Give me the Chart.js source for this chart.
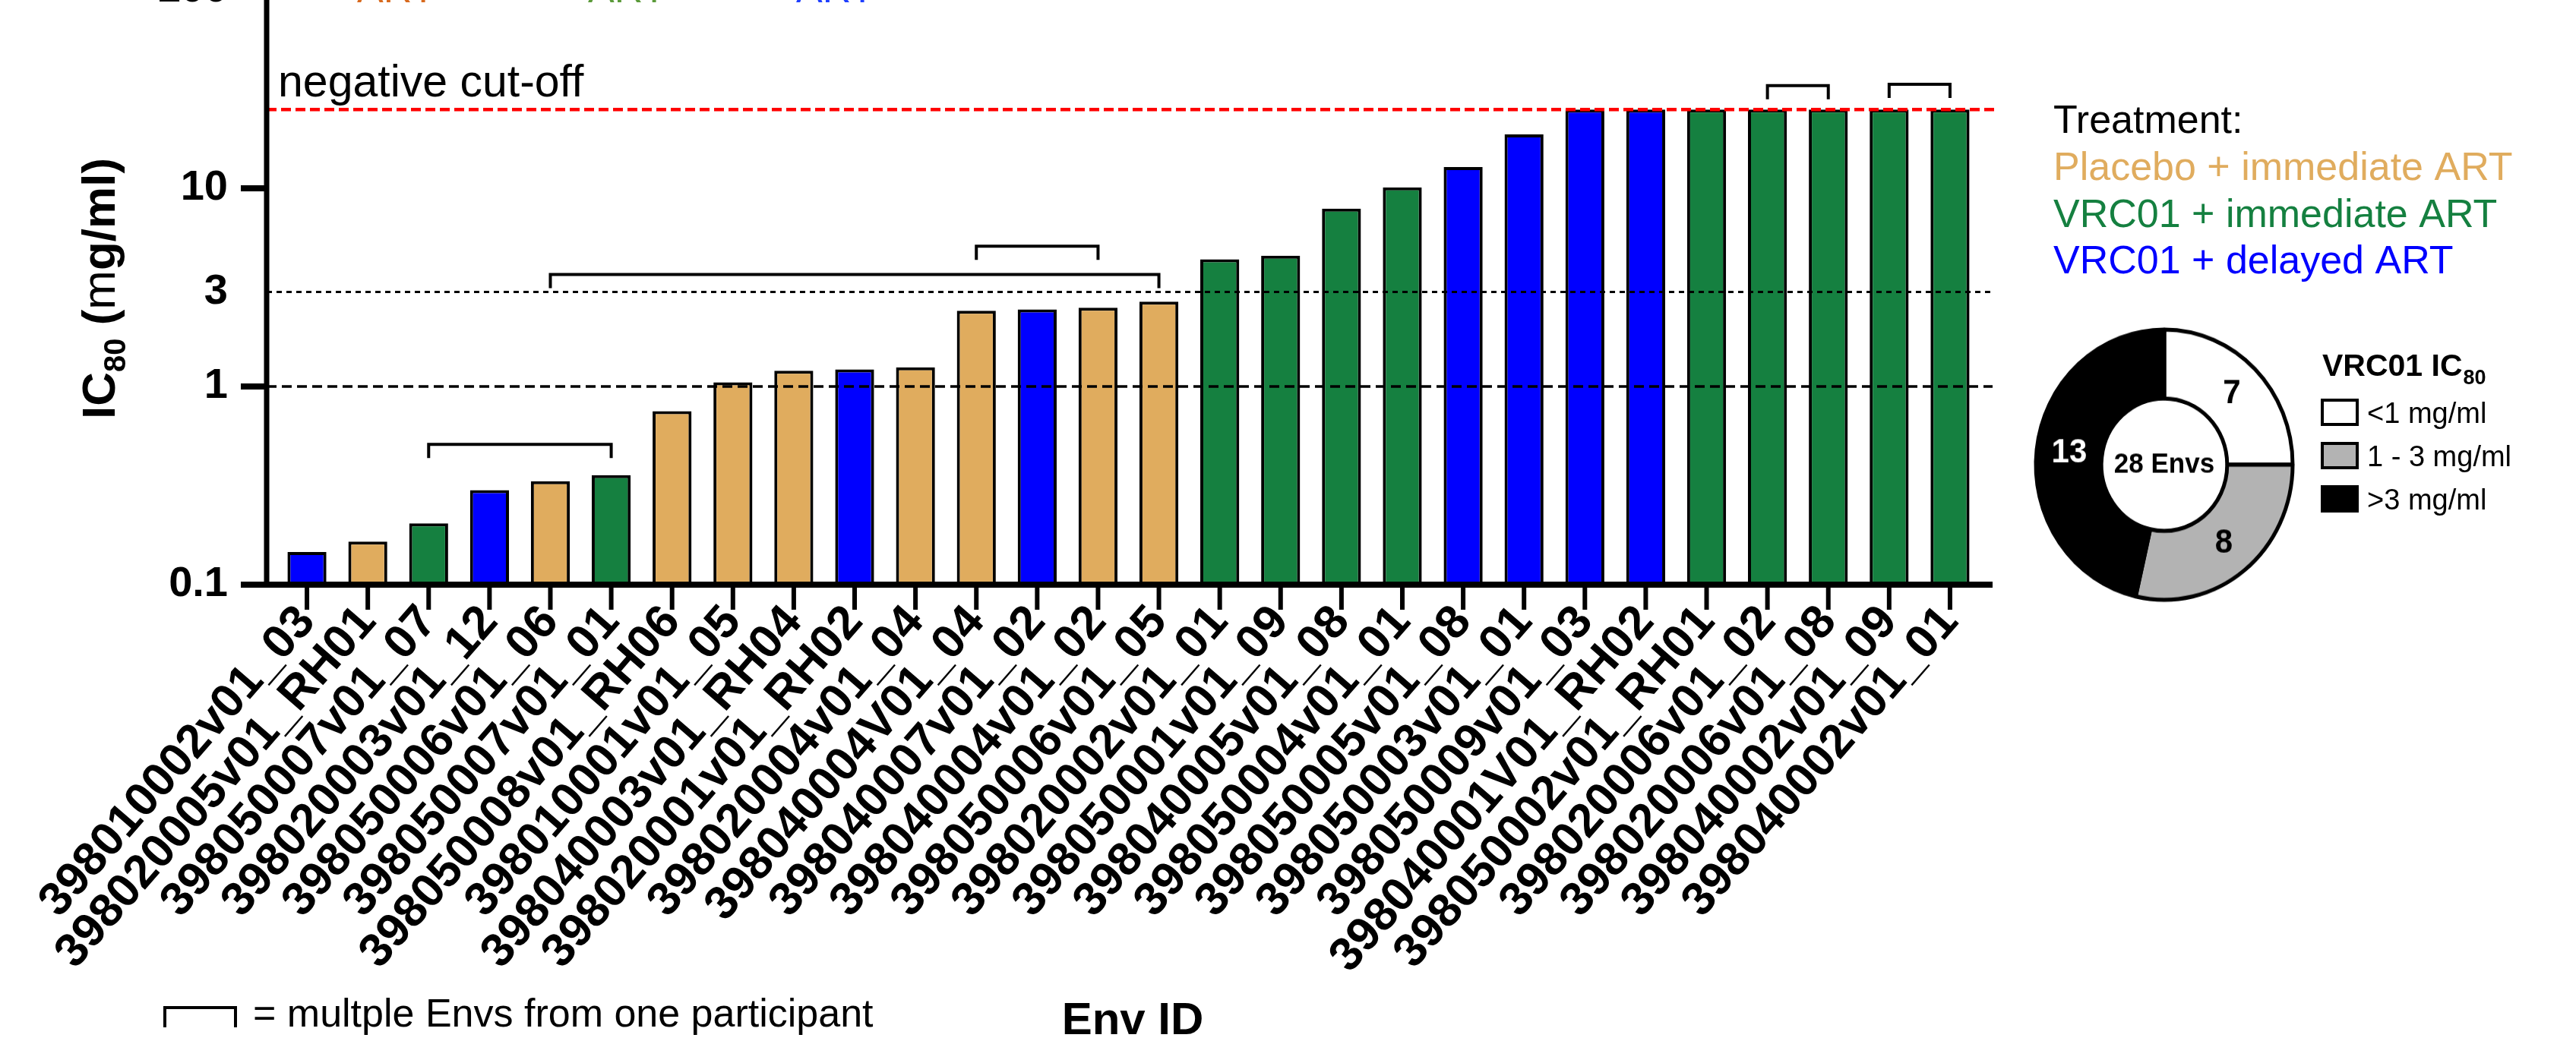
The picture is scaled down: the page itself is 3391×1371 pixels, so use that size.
<!DOCTYPE html>
<html>
<head>
<meta charset="utf-8">
<script src="https://cdn.jsdelivr.net/npm/chart.js@4.4.1/dist/chart.umd.min.js"></script>
<style>
  html, body { margin: 0; padding: 0; background: #fff; overflow: hidden; }
  body { width: 3391px; height: 1371px; position: relative; }
  #bars { position: absolute; left: 0; top: -113px; }
  #pie { position: absolute; left: 2649px; top: 412px; transform: scaleY(1.053); transform-origin: 50% 50%; }
</style>
</head>
<body>
<canvas id="bars" width="3391" height="1484"></canvas>
<canvas id="pie" width="400" height="400"></canvas>
<script>
// Env IDs, in plot order
const envIds = [
  '398010002v01_03', '398020005v01_RH01', '398050007v01_07', '398020003v01_12',
  '398050006v01_06', '398050007v01_01', '398050008v01_RH06', '398010001v01_05',
  '398040003v01_RH04', '398020001v01_RH02', '398020004v01_04', '398040004V01_04',
  '398040007v01_02', '398040004v01_02', '398050006v01_05', '398020002v01_01',
  '398050001v01_09', '398040005v01_08', '398050004v01_01', '398050005v01_08',
  '398050003v01_01', '398050009v01_03', '398040001V01_RH02', '398050002v01_RH01',
  '398020006v01_02', '398020006v01_08', '398040002v01_09', '398040002v01_01'
];
// VRC01 IC80 (ug/ml)
const ic80 = [
  0.146, 0.165, 0.204, 0.30, 0.333, 0.357, 0.75, 1.05,
  1.20, 1.22, 1.25, 2.41, 2.45, 2.50, 2.68, 4.38,
  4.57, 7.9, 10.1, 12.8, 18.7, 25, 25, 25,
  25, 25, 25, 25
];
// 0 = placebo + immediate, 1 = VRC01 + immediate, 2 = VRC01 + delayed
const arms = [2, 0, 1, 2, 0, 1, 0, 0, 0, 2, 0, 0, 2, 0, 0, 1, 1, 1, 1, 2, 2, 2, 2, 1, 1, 1, 1, 1];
const armNames = ['Placebo + immediate ART', 'VRC01 + immediate ART', 'VRC01 + delayed ART'];
const armColors = ['#e0ac5e', '#158040', '#0000ff'];

const yTicks = [0.1, 1, 3, 10, 100];
const yTickMarks = [0.1, 1, 10, 100];
const cutOff = 25;

// Envs from the same participant: [first bar, last bar] and bracket level (axis units)
const participantGroups = [[2, 5], [4, 14], [11, 13], [24, 25], [26, 27]];
const groupLevels = [0.51, 3.67, 5.1, 33, 33.5];

const pieLabels = ['<1 mg/ml', '1 - 3 mg/ml', '>3 mg/ml'];
const pieCounts = [7, 8, 13];
const pieColors = ['#ffffff', '#b3b3b3', '#000000'];

Chart.defaults.font.family = '"Liberation Sans", Arial, sans-serif';
Chart.defaults.color = '#000';

const OFF = 113; // main canvas sits 113px above the page top
const FONT = '"Liberation Sans", Arial, sans-serif';

function hLine(ctx, x1, x2, y) {
  ctx.beginPath(); ctx.moveTo(x1, y); ctx.lineTo(x2, y); ctx.stroke();
}
function vLine(ctx, x, y1, y2) {
  ctx.beginPath(); ctx.moveTo(x, y1); ctx.lineTo(x, y2); ctx.stroke();
}
function bracket(ctx, x1, x2, y, leg) {
  ctx.beginPath();
  ctx.moveTo(x1, y + leg); ctx.lineTo(x1, y); ctx.lineTo(x2, y); ctx.lineTo(x2, y + leg);
  ctx.stroke();
}

const decor = {
  id: 'decor',
  afterDatasetsDraw(chart) {
    const ctx = chart.ctx;
    const xs = chart.scales.x, ys = chart.scales.y;
    const axisX = xs.left - 13;
    const axisRight = xs.right + 16;
    const baseY = ys.bottom;

    ctx.save();
    ctx.lineCap = 'butt';
    // reference lines
    ctx.strokeStyle = '#000';
    ctx.lineWidth = 3.5; ctx.setLineDash([13, 7]);
    hLine(ctx, axisX, axisRight, ys.getPixelForValue(1));
    ctx.lineWidth = 3; ctx.setLineDash([7, 6]);
    hLine(ctx, axisX, axisRight, ys.getPixelForValue(3));
    ctx.strokeStyle = '#ff0000'; ctx.lineWidth = 4.5; ctx.setLineDash([13, 6]);
    hLine(ctx, axisX, axisRight + 7, ys.getPixelForValue(cutOff));
    ctx.setLineDash([]);

    // axes
    ctx.strokeStyle = '#000';
    ctx.lineWidth = 7;
    vLine(ctx, axisX, 0, baseY);
    ctx.lineWidth = 8;
    hLine(ctx, axisX - 34, axisRight, baseY);
    yTickMarks.forEach(v => hLine(ctx, axisX - 34, axisX, ys.getPixelForValue(v)));
    ctx.lineWidth = 6;
    envIds.forEach((_, i) => vLine(ctx, xs.getPixelForTick(i), baseY + 4, baseY + 33));

    // participant brackets
    ctx.lineWidth = 4;
    participantGroups.forEach((g, k) => {
      bracket(ctx, xs.getPixelForTick(g[0]), xs.getPixelForTick(g[1]),
        ys.getPixelForValue(groupLevels[k]), 18);
    });

    // texts
    ctx.textBaseline = 'alphabetic';
    ctx.textAlign = 'left';
    ctx.fillStyle = '#000';
    ctx.font = '59px ' + FONT;
    ctx.fillText('negative cut-off', 366, 127 + OFF);

    // cut-off legend from the panel above
    ctx.font = '52px ' + FONT;
    const topCols = ['#d86a1e', '#5b9a3a', '#1f3fff'];
    [470, 774, 1048].forEach((x, i) => {
      ctx.fillStyle = topCols[i];
      ctx.fillText('ART', x, 3 + OFF);
    });

    // treatment legend
    ctx.fillStyle = '#000';
    ctx.fillText('Treatment:', 2703, 175 + OFF);
    armNames.forEach((n, i) => {
      ctx.fillStyle = armColors[i];
      ctx.fillText(n, 2703, 237 + i * 61.5 + OFF);
    });

    // pie legend
    ctx.fillStyle = '#000';
    ctx.font = 'bold 41px ' + FONT;
    ctx.fillText('VRC01 IC', 3057, 495 + OFF);
    const w = ctx.measureText('VRC01 IC').width;
    ctx.font = 'bold 27px ' + FONT;
    ctx.fillText('80', 3057 + w + 1, 506 + OFF);
    ctx.lineWidth = 4;
    pieLabels.forEach((l, i) => {
      const cy = 543 + i * 57 + OFF;
      ctx.fillStyle = pieColors[i];
      ctx.fillRect(3057, cy - 16, 46, 32);
      ctx.strokeRect(3057, cy - 16, 46, 32);
      ctx.fillStyle = '#000';
      ctx.font = '38px ' + FONT;
      ctx.fillText(l, 3116, cy + 14);
    });

    // bracket key
    ctx.lineWidth = 4;
    bracket(ctx, 217, 310, 1327 + OFF, 26);
    ctx.font = '52px ' + FONT;
    ctx.fillText('= multple Envs from one participant', 333, 1352 + OFF);

    // x title
    ctx.textAlign = 'center';
    ctx.font = 'bold 60px ' + FONT;
    ctx.fillText('Env ID', 1491, 1362 + OFF);

    // y title: IC80 (mg/ml)
    const parts = [
      { t: 'IC', f: 'bold 62px ', dy: 0 },
      { t: '80', f: 'bold 40px ', dy: 14 },
      { t: ' (', f: 'bold 62px ', dy: 0 },
      { t: 'm', f: '62px ', dy: 0 },
      { t: 'g/ml)', f: 'bold 62px ', dy: 0 }
    ];
    let total = 0;
    parts.forEach(p => { ctx.font = p.f + FONT; p.w = ctx.measureText(p.t).width; total += p.w; });
    ctx.translate(151, 380 + OFF);
    ctx.rotate(-Math.PI / 2);
    ctx.textAlign = 'left';
    let px = -total / 2;
    parts.forEach(p => {
      ctx.font = p.f + FONT;
      ctx.fillText(p.t, px, p.dy);
      px += p.w;
    });
    ctx.restore();
  }
};

new Chart(document.getElementById('bars'), {
  type: 'bar',
  data: {
    labels: envIds,
    datasets: [{
      data: ic80,
      backgroundColor: arms.map(a => armColors[a]),
      borderColor: '#000',
      borderWidth: 4,
      borderSkipped: false,
      barPercentage: 0.64,
      categoryPercentage: 1
    }]
  },
  options: {
    responsive: false,
    devicePixelRatio: 1,
    animation: false,
    layout: { padding: { top: 100, right: 784, bottom: 0, left: 0 } },
    plugins: { legend: { display: false }, tooltip: { enabled: false } },
    scales: {
      x: {
        type: 'category',
        offset: true,
        grid: { display: false, drawTicks: false },
        border: { display: false },
        ticks: {
          autoSkip: false, minRotation: 49, maxRotation: 49, padding: 14,
          font: { size: 62, weight: 'bold' }, color: '#000'
        },
        afterFit: s => { s.height = 601; }
      },
      y: {
        type: 'logarithmic',
        min: 0.1, max: 100,
        grid: { display: false, drawTicks: false },
        border: { display: false },
        ticks: {
          padding: 64, font: { size: 56, weight: 'bold' }, color: '#000',
          callback: v => String(v)
        },
        afterBuildTicks: s => { s.ticks = yTicks.map(v => ({ value: v })); },
        afterFit: s => { s.width = 364; }
      }
    }
  },
  plugins: [decor]
});

const pieText = {
  id: 'pieText',
  afterDatasetsDraw(chart) {
    const ctx = chart.ctx;
    const arcs = chart.getDatasetMeta(0).data;
    ctx.save();
    ctx.textAlign = 'center';
    ctx.textBaseline = 'middle';
    ctx.font = 'bold 42px ' + FONT;
    arcs.forEach((a, i) => {
      const p = a.getCenterPoint();
      ctx.fillStyle = i === 2 ? '#fff' : '#000';
      ctx.fillText(String(pieCounts[i]), p.x, p.y);
    });
    const c = arcs[0];
    ctx.fillStyle = '#000';
    ctx.font = 'bold 35px ' + FONT;
    const total = pieCounts.reduce((s, v) => s + v, 0);
    ctx.fillText(total + ' Envs', c.x, c.y);
    ctx.restore();
  }
};

new Chart(document.getElementById('pie'), {
  type: 'doughnut',
  data: {
    labels: pieLabels,
    datasets: [{
      data: pieCounts,
      backgroundColor: pieColors,
      borderColor: '#000',
      borderWidth: 5
    }]
  },
  options: {
    responsive: false,
    devicePixelRatio: 1,
    animation: false,
    radius: 169,
    cutout: '49%',
    plugins: { legend: { display: false }, tooltip: { enabled: false } }
  },
  plugins: [pieText]
});
</script>
</body>
</html>
